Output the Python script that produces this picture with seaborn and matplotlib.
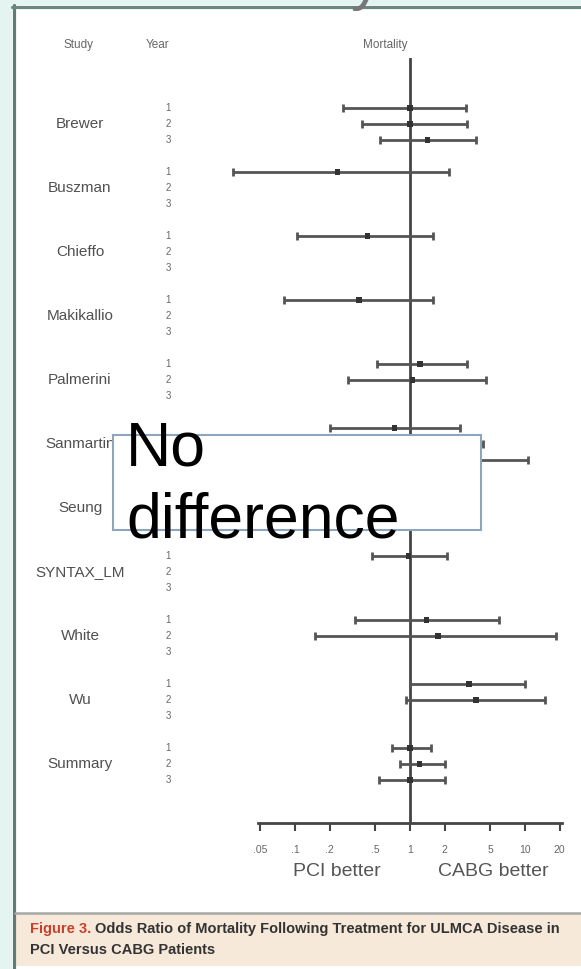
import matplotlib
matplotlib.use("Agg")
import matplotlib.pyplot as plt
import seaborn as sns
import pandas as pd
import numpy as np
from matplotlib.patches import Rectangle
from matplotlib.lines import Line2D
from matplotlib.transforms import blended_transform_factory
from matplotlib.ticker import FixedLocator, FixedFormatter, NullLocator

# studies shown on the left, in order
studies = ["Brewer", "Buszman", "Chieffo", "Makikallio", "Palmerini", "Sanmartin",
           "Seung", "SYNTAX_LM", "White", "Wu", "Summary"]
years = [1, 2, 3]

# one row per plotted interval
row_study = ["Brewer", "Brewer", "Brewer", "Buszman", "Chieffo", "Makikallio",
             "Palmerini", "Palmerini", "Sanmartin", "Sanmartin", "Sanmartin",
             "Seung", "Seung", "Seung", "SYNTAX_LM", "White", "White",
             "Wu", "Wu", "Summary", "Summary", "Summary"]
row_year = [1, 2, 3, 1, 1, 1, 1, 2, 1, 2, 3, 1, 2, 3, 1, 1, 2, 1, 2, 1, 2, 3]
odds = [1.0, 1.0, 1.43, 0.236, 0.43, 0.36, 1.22, 1.05, 0.73, 1.4, 2.6,
        1.2, 1.1, 1.0, 0.97, 1.4, 1.75, 3.26, 3.75, 1.0, 1.2, 1.0]
lower = [0.26, 0.38, 0.55, 0.029, 0.104, 0.08, 0.52, 0.29, 0.20, 0.45, 0.65,
         0.5, 0.55, 0.5, 0.47, 0.33, 0.15, 1.0, 0.92, 0.70, 0.82, 0.54]
upper = [3.07, 3.1, 3.75, 2.18, 1.58, 1.58, 3.1, 4.58, 2.72, 4.3, 10.6,
         2.9, 2.2, 2.0, 2.1, 5.95, 18.6, 10.0, 14.9, 1.52, 2.0, 2.0]

tick_vals = [0.05, 0.1, 0.2, 0.5, 1, 2, 5, 10, 20]
tick_text = [".05", ".1", ".2", ".5", "1", "2", "5", "10", "20"]

df = pd.DataFrame({"study": row_study, "year": row_year, "odds": odds,
                   "lower": lower, "upper": upper})
df["row"] = [4 * studies.index(s) + (y - 1) for s, y in zip(df["study"], df["year"])]

sns.set_theme(style="white")
plt.rcParams["font.family"] = ["Liberation Sans", "DejaVu Sans"]

W, H = 581, 969
def fx(px):
    return px / W
def fy(py):
    return 1 - py / H

# call-out box, pixels
box_l, box_t, box_r, box_b = 113, 435, 481, 530

fig = plt.figure(figsize=(W / 100, H / 100), dpi=100)
fig.patch.set_facecolor("white")

# page frame: mint margin, left and top borders
fig.add_artist(Rectangle((0, 0), fx(12), 1, transform=fig.transFigure,
                         facecolor="#e4f5f1", edgecolor="none", zorder=0))
fig.add_artist(Rectangle((0, fy(5)), 1, 5 / H, transform=fig.transFigure,
                         facecolor="#e4f5f1", edgecolor="none", zorder=0))
fig.add_artist(Line2D([fx(13.5), fx(13.5)], [0, fy(5)], transform=fig.transFigure,
                      color="#5f7d77", lw=2.3))
fig.add_artist(Line2D([fx(12), 1], [fy(6.5), fy(6.5)], transform=fig.transFigure,
                      color="#6b8780", lw=2.3))
fig.text(fx(265), fy(-2), "Mortality", fontsize=45, color="#777777",
         ha="center", va="baseline")

# forest plot axes: x=1 sits at 410 px, 115 px per decade
ax_l, ax_r, ax_t, ax_b = 200, 575, 58, 823
ax = fig.add_axes([fx(ax_l), fy(ax_b), (ax_r - ax_l) / W, (ax_b - ax_t) / H])
ax.set_facecolor("none")
ax.set_xscale("log")
ax.set_xlim(10 ** ((ax_l - 410) / 115), 10 ** ((ax_r - 410) / 115))
ax.set_ylim((ax_b - 108) / 16, (ax_t - 108) / 16)

ax.axvline(1, color="#444444", lw=2, zorder=1)
ax.errorbar(df["odds"], df["row"],
            xerr=[df["odds"] - df["lower"], df["upper"] - df["odds"]],
            fmt="none", ecolor="#555555", elinewidth=2, capsize=3, capthick=2, zorder=2)
sns.scatterplot(data=df, x="odds", y="row", marker="s", s=14, color="#333333",
                edgecolor="none", ax=ax, zorder=3, legend=False)
ax.set_xlabel("")
ax.set_ylabel("")

for side in ["top", "right", "left"]:
    ax.spines[side].set_visible(False)
ax.spines["bottom"].set_color("#444444")
ax.spines["bottom"].set_linewidth(2)
ax.spines["bottom"].set_bounds(0.048, 21)
ax.xaxis.set_major_locator(FixedLocator(tick_vals))
ax.xaxis.set_major_formatter(FixedFormatter(tick_text))
ax.xaxis.set_minor_locator(NullLocator())
ax.set_yticks([])
ax.tick_params(axis="x", bottom=True, direction="out", length=6, width=1.5,
               color="#444444", labelsize=7.5, labelcolor="#666666", pad=10)

# study names and year numbers (digits under the call-out box are not drawn)
tr = blended_transform_factory(fig.transFigure, ax.transData)
for i, s in enumerate(studies):
    ax.text(fx(80), 4 * i + 1, s, transform=tr, ha="center", va="center",
            fontsize=11, color="#505050", clip_on=False)
    for y in years:
        row = 4 * i + y - 1
        if box_t - 8 < 108 + 16 * row < box_b + 8:
            continue
        ax.text(fx(168), row, str(y), transform=tr, ha="center", va="center",
                fontsize=7, color="#666666", clip_on=False)

fig.text(fx(78), fy(45), "Study", fontsize=8.5, color="#666666", ha="center", va="center")
fig.text(fx(158), fy(45), "Year", fontsize=8.5, color="#666666", ha="center", va="center")
fig.text(fx(385), fy(45), "Mortality", fontsize=8.5, color="#666666", ha="center", va="center")

fig.text(fx(337), fy(872), "PCI better", fontsize=14, color="#555555", ha="center", va="center")
fig.text(fx(493), fy(872), "CABG better", fontsize=14, color="#555555", ha="center", va="center")

# "No difference" call-out box
fig.add_artist(Rectangle((fx(box_l), fy(box_b)), (box_r - box_l) / W, (box_b - box_t) / H,
                         transform=fig.transFigure, facecolor="white",
                         edgecolor="#8ea6bd", lw=1.5, zorder=5))
fig.text(fx(126), fy(465), "No", fontsize=45, color="black", ha="left", va="baseline", zorder=6)
fig.text(fx(126), fy(538), "difference", fontsize=45, color="black", ha="left", va="baseline", zorder=6)

# caption strip
fig.add_artist(Rectangle((fx(15), fy(966)), 1, (966 - 914) / H, transform=fig.transFigure,
                         facecolor="#f6e9da", edgecolor="none", zorder=0))
fig.add_artist(Line2D([fx(15), 1], [fy(912.5), fy(912.5)], transform=fig.transFigure,
                      color="#a8a8a8", lw=1.8))
fig.canvas.draw()
t1 = fig.text(fx(30), fy(933), "Figure 3.", fontsize=10.5, fontweight="bold",
              color="#c8402c", ha="left", va="baseline")
fig.canvas.draw()
bb = t1.get_window_extent()
fig.text((bb.x1 + 4) / W, fy(933), "Odds Ratio of Mortality Following Treatment for ULMCA Disease in",
         fontsize=10.5, fontweight="bold", color="#333333", ha="left", va="baseline")
fig.text(fx(30), fy(954), "PCI Versus CABG Patients", fontsize=10.5, fontweight="bold",
         color="#333333", ha="left", va="baseline")

fig.savefig("out.png", dpi=100)
